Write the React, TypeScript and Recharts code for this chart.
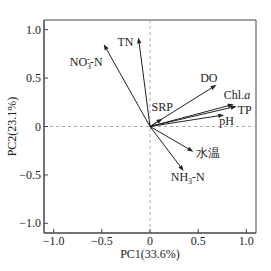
import React from "react";
import {
  ScatterChart,
  XAxis,
  YAxis,
  ReferenceLine,
  ReferenceArea,
} from "recharts";

const varNames = ["TN", "NO3-N", "DO", "SRP", "Chl.a", "TP", "pH", "水温", "NH3-N"];
const pc1Loadings = [-0.12, -0.48, 0.69, 0.13, 0.87, 0.9, 0.77, 0.45, 0.35];
const pc2Loadings = [0.92, 0.85, 0.43, 0.08, 0.23, 0.21, 0.12, -0.26, -0.46];
const axisTicks = [-1, -0.5, 0, 0.5, 1];

// label placement relative to arrow tip (px)
const labelPos: Record<string, { dx: number; dy: number; anchor: string }> = {
  TN: { dx: -5, dy: 9, anchor: "end" },
  "NO3-N": { dx: -1, dy: 22, anchor: "end" },
  DO: { dx: 1, dy: -3, anchor: "end" },
  SRP: { dx: -11, dy: -8, anchor: "start" },
  "Chl.a": { dx: -10, dy: -5, anchor: "start" },
  TP: { dx: 1, dy: 8, anchor: "start" },
  pH: { dx: -5, dy: 10, anchor: "start" },
  水温: { dx: 3, dy: 5, anchor: "start" },
  "NH3-N": { dx: -13, dy: 10, anchor: "start" },
};

const FONT = "'Liberation Serif', 'Times New Roman', serif";
const INK = "#222";

const fmt = (v: number) => (v === 0 ? "0" : (v < 0 ? "\u2212" : "") + Math.abs(v).toFixed(1));

function LabelText({ name }: { name: string }) {
  if (name === "NO3-N")
    return (
      <>
        NO
        <tspan fontSize={8} dy={3}>3</tspan>
        <tspan fontSize={9} dx={-4} dy={-7}>-</tspan>
        <tspan dy={4}>-N</tspan>
      </>
    );
  if (name === "NH3-N")
    return (
      <>
        NH
        <tspan fontSize={8} dy={3}>3</tspan>
        <tspan dy={-3}>-N</tspan>
      </>
    );
  if (name === "Chl.a")
    return (
      <>
        Chl.<tspan fontStyle="italic">a</tspan>
      </>
    );
  return <>{name}</>;
}

function makeArrow(name: string) {
  return (p: any) => {
    const { x1, y1, x2, y2 } = p;
    const ang = Math.atan2(y2 - y1, x2 - x1);
    const L = 6;
    const W = 2.2;
    const bx = x2 - L * Math.cos(ang);
    const by = y2 - L * Math.sin(ang);
    const nx = -Math.sin(ang) * W;
    const ny = Math.cos(ang) * W;
    const lp = labelPos[name];
    return (
      <g>
        <line x1={x1} y1={y1} x2={bx} y2={by} stroke={INK} strokeWidth={1} />
        <polygon
          points={`${x2},${y2} ${bx + nx},${by + ny} ${bx - nx},${by - ny}`}
          fill={INK}
        />
        <text
          x={x2 + lp.dx}
          y={y2 + lp.dy}
          textAnchor={lp.anchor as any}
          fontFamily={FONT}
          fontSize={12}
          fill={INK}
        >
          <LabelText name={name} />
        </text>
      </g>
    );
  };
}

function XTick(p: any) {
  const { x, y, payload } = p;
  return (
    <g>
      <line x1={x} y1={y} x2={x} y2={y - 4} stroke="#444" />
      <text x={x} y={y + 12} textAnchor="middle" fontFamily={FONT} fontSize={12} fill={INK}>
        {fmt(payload.value)}
      </text>
    </g>
  );
}

function YTick(p: any) {
  const { x, y, payload } = p;
  return (
    <g>
      <line x1={x} y1={y} x2={x + 4} y2={y} stroke="#444" />
      <text x={x - 3} y={y + 4} textAnchor="end" fontFamily={FONT} fontSize={12} fill={INK}>
        {fmt(payload.value)}
      </text>
    </g>
  );
}

export default function App() {
  return (
    <div style={{ position: "absolute", left: 0, top: 0, background: "#fff" }}>
      <ScatterChart
        width={271}
        height={271}
        margin={{ top: 20, right: 15, bottom: 0, left: 0 }}
      >
        <XAxis
          type="number"
          dataKey="x"
          domain={[-1.1, 1.1]}
          ticks={axisTicks}
          allowDataOverflow
          tickLine={false}
          tickSize={0}
          tickMargin={0}
          height={38}
          axisLine={{ stroke: "#444" }}
          tick={<XTick />}
          label={{
            value: "PC1(33.6%)",
            position: "insideBottom",
            offset: 13,
            style: { fontFamily: FONT, fontSize: 12, fill: INK },
          }}
        />
        <YAxis
          type="number"
          dataKey="y"
          domain={[-1.1, 1.1]}
          ticks={axisTicks}
          allowDataOverflow
          tickLine={false}
          tickSize={0}
          tickMargin={0}
          width={44}
          axisLine={{ stroke: "#444" }}
          tick={<YTick />}
          label={{
            value: "PC2(23.1%)",
            angle: -90,
            position: "insideLeft",
            offset: 12,
            style: { fontFamily: FONT, fontSize: 12, fill: INK, textAnchor: "middle" },
          }}
        />
        <ReferenceArea
          x1={-1.1}
          x2={1.1}
          y1={-1.1}
          y2={1.1}
          fill="none"
          stroke="#444"
          strokeWidth={1}
          ifOverflow="visible"
        />
        <ReferenceLine x={0} stroke="#aaa" strokeDasharray="3 3" />
        <ReferenceLine y={0} stroke="#aaa" strokeDasharray="3 3" />
        {varNames.map((n, i) => (
          <ReferenceLine
            key={n}
            segment={[
              { x: 0, y: 0 },
              { x: pc1Loadings[i], y: pc2Loadings[i] },
            ]}
            shape={makeArrow(n)}
            ifOverflow="visible"
          />
        ))}
      </ScatterChart>
    </div>
  );
}
